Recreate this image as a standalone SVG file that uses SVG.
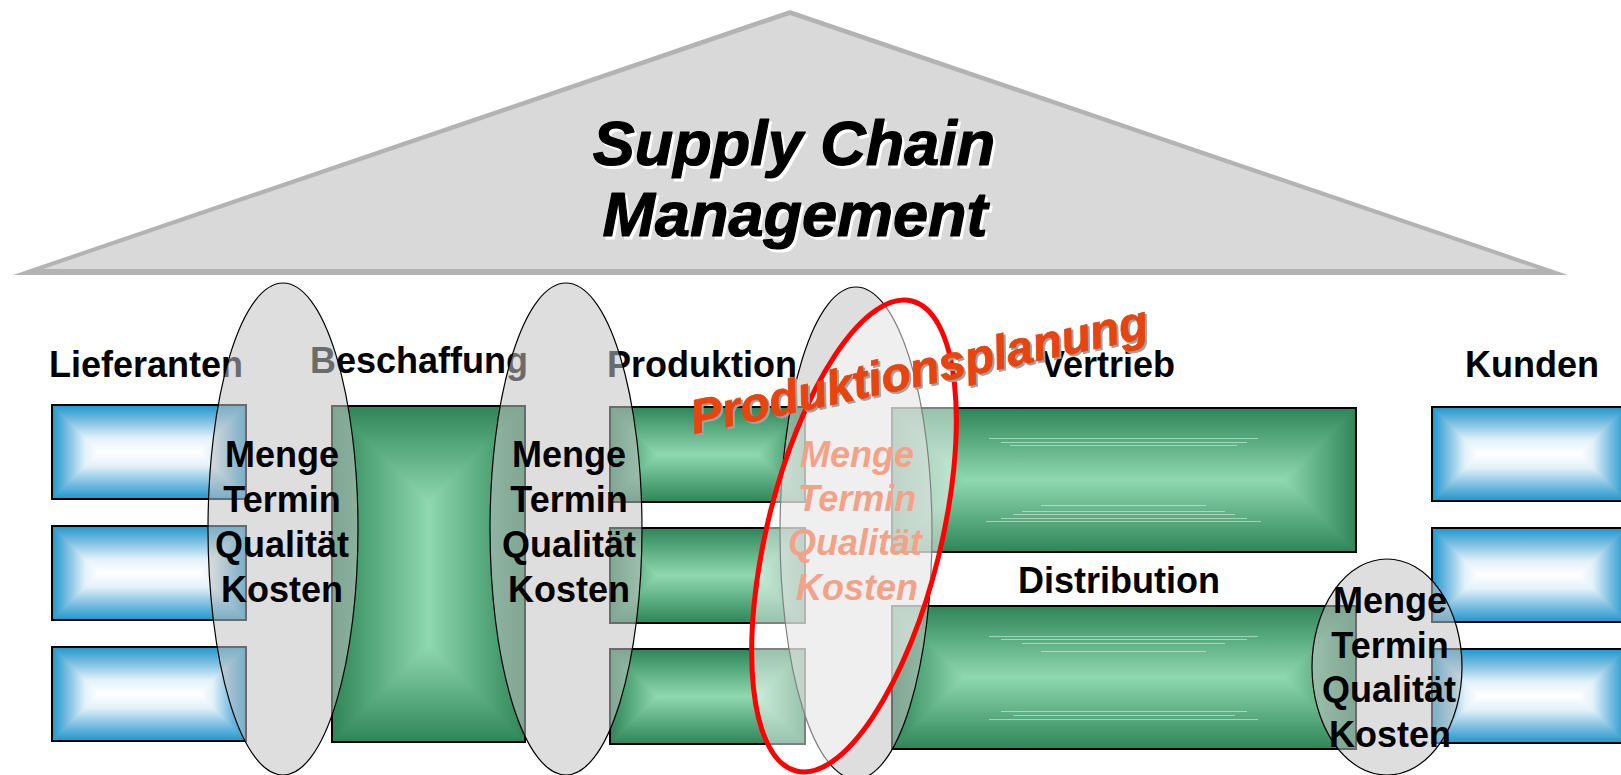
<svg xmlns="http://www.w3.org/2000/svg" xmlns:xlink="http://www.w3.org/1999/xlink" width="1621" height="775" viewBox="0 0 1621 775">
<style>
.lbl{font-family:"Liberation Sans",Arial,sans-serif;font-weight:bold;font-size:36px;fill:#000}
.et{font-family:"Liberation Sans",Arial,sans-serif;font-weight:bold;font-size:36px;fill:#000;text-anchor:middle}
.eo{font-family:"Liberation Sans",Arial,sans-serif;font-weight:bold;font-style:italic;font-size:36px;fill:#e8440e;text-anchor:middle}
.ttl{font-family:"Liberation Sans",Arial,sans-serif;font-weight:bold;font-style:italic;font-size:63px;text-anchor:middle;stroke-width:1.2;stroke-linejoin:round}
.pp{font-family:"Liberation Sans",Arial,sans-serif;font-weight:bold;font-style:italic;font-size:48px;stroke-width:0.8;stroke-linejoin:round}
.ell{fill:#c3c3c3;fill-opacity:0.55;stroke:#000;stroke-width:1.2}
.box{fill:none;stroke:#000;stroke-width:2}
.streak{stroke:#d6f2e2;stroke-width:1;opacity:0.6}
</style>
<defs>
<linearGradient id="bT" x1="0" y1="0" x2="0" y2="1"><stop offset="0" stop-color="#1f96cc"/><stop offset="0.35" stop-color="#7fc0e2"/><stop offset="0.7" stop-color="#e2f1f9"/><stop offset="1" stop-color="#ffffff"/></linearGradient>
<linearGradient id="bB" x1="0" y1="1" x2="0" y2="0"><stop offset="0" stop-color="#1f96cc"/><stop offset="0.35" stop-color="#7fc0e2"/><stop offset="0.7" stop-color="#e2f1f9"/><stop offset="1" stop-color="#ffffff"/></linearGradient>
<linearGradient id="bL" x1="0" y1="0" x2="1" y2="0"><stop offset="0" stop-color="#1f96cc"/><stop offset="0.35" stop-color="#7fc0e2"/><stop offset="0.7" stop-color="#e2f1f9"/><stop offset="1" stop-color="#ffffff"/></linearGradient>
<linearGradient id="bR" x1="1" y1="0" x2="0" y2="0"><stop offset="0" stop-color="#1f96cc"/><stop offset="0.35" stop-color="#7fc0e2"/><stop offset="0.7" stop-color="#e2f1f9"/><stop offset="1" stop-color="#ffffff"/></linearGradient>
<linearGradient id="gT" x1="0" y1="0" x2="0" y2="1"><stop offset="0" stop-color="#2e8558"/><stop offset="1" stop-color="#8fd8b0"/></linearGradient>
<linearGradient id="gB" x1="0" y1="1" x2="0" y2="0"><stop offset="0" stop-color="#2e8558"/><stop offset="1" stop-color="#8fd8b0"/></linearGradient>
<linearGradient id="gL" x1="0" y1="0" x2="1" y2="0"><stop offset="0" stop-color="#2e8558"/><stop offset="1" stop-color="#8fd8b0"/></linearGradient>
<linearGradient id="gR" x1="1" y1="0" x2="0" y2="0"><stop offset="0" stop-color="#2e8558"/><stop offset="1" stop-color="#8fd8b0"/></linearGradient>
<g id="blueBox">
<polygon points="0,0 194,0 147,47 47,47" fill="url(#bT)" stroke="url(#bT)" stroke-width="1"/>
<polygon points="0,94 194,94 147,47 47,47" fill="url(#bB)" stroke="url(#bB)" stroke-width="1"/>
<polygon points="0,0 47,47 0,94" fill="url(#bL)" stroke="url(#bL)" stroke-width="1"/>
<polygon points="194,0 147,47 194,94" fill="url(#bR)" stroke="url(#bR)" stroke-width="1"/>
<rect x="0" y="0" width="194" height="94" class="box"/>
</g>
<g id="greenBox">
<polygon points="0,0 195,0 147.5,47.5 47.5,47.5" fill="url(#gT)" stroke="url(#gT)" stroke-width="1"/>
<polygon points="0,95 195,95 147.5,47.5 47.5,47.5" fill="url(#gB)" stroke="url(#gB)" stroke-width="1"/>
<polygon points="0,0 47.5,47.5 0,95" fill="url(#gL)" stroke="url(#gL)" stroke-width="1"/>
<polygon points="195,0 147.5,47.5 195,95" fill="url(#gR)" stroke="url(#gR)" stroke-width="1"/>
<rect x="0" y="0" width="195" height="95" class="box"/>
</g>
</defs>
<rect width="1621" height="775" fill="#fff"/>

<g id="roof">
<polygon points="13,275 790,10 1568,275" fill="#b3b3b3"/>
<polygon points="43,269 790,15 1538,269" fill="#d9d9d9"/>
<text class="ttl" x="796.5" y="167.5" fill="#fff" stroke="#fff">Supply Chain</text>
<text class="ttl" x="794" y="165" fill="#000" stroke="#000">Supply Chain</text>
<text class="ttl" x="797.5" y="238.5" fill="#fff" stroke="#fff">Management</text>
<text class="ttl" x="795" y="236" fill="#000" stroke="#000">Management</text>
</g>

<g id="labels">
<text class="lbl" x="49" y="377">Lieferanten</text>
<text class="lbl" x="310" y="373">Beschaffung</text>
<text class="lbl" x="607" y="377">Produktion</text>
<text class="lbl" x="1041" y="377">Vertrieb</text>
<text class="lbl" x="1465" y="377">Kunden</text>
<text class="lbl" x="1018" y="593">Distribution</text>
</g>

<g id="lieferanten">
<use xlink:href="#blueBox" href="#blueBox" x="52" y="405"/>
<use xlink:href="#blueBox" href="#blueBox" x="52" y="526"/>
<use xlink:href="#blueBox" href="#blueBox" x="52" y="647"/>
</g>

<g id="beschaffung">
<polygon points="332,406 428.5,502.5 428.5,645.5 332,742" fill="url(#gL)" stroke="url(#gL)" stroke-width="1"/>
<polygon points="525,406 428.5,502.5 428.5,645.5 525,742" fill="url(#gR)" stroke="url(#gR)" stroke-width="1"/>
<polygon points="332,406 525,406 428.5,502.5" fill="url(#gT)" stroke="url(#gT)" stroke-width="1"/>
<polygon points="332,742 525,742 428.5,645.5" fill="url(#gB)" stroke="url(#gB)" stroke-width="1"/>
<rect x="332" y="406" width="193" height="336" class="box"/>
</g>

<g id="produktion">
<use xlink:href="#greenBox" href="#greenBox" x="610" y="407"/>
<use xlink:href="#greenBox" href="#greenBox" x="610" y="528"/>
<use xlink:href="#greenBox" href="#greenBox" x="610" y="649"/>
</g>

<g id="vertrieb">
<polygon points="892,408 1356,408 1284,480 964,480" fill="url(#gT)" stroke="url(#gT)" stroke-width="1"/>
<polygon points="892,552 1356,552 1284,480 964,480" fill="url(#gB)" stroke="url(#gB)" stroke-width="1"/>
<polygon points="892,408 964,480 892,552" fill="url(#gL)" stroke="url(#gL)" stroke-width="1"/>
<polygon points="1356,408 1284,480 1356,552" fill="url(#gR)" stroke="url(#gR)" stroke-width="1"/>
<g class="streak">
<line x1="989" y1="438.5" x2="1258" y2="438.5"/>
<line x1="1001" y1="442.5" x2="1247" y2="442.5"/>
<line x1="1010" y1="445.5" x2="1237" y2="445.5"/>
<line x1="1041" y1="505.5" x2="1206" y2="505.5"/>
<line x1="1022" y1="511.5" x2="1225" y2="511.5"/>
<line x1="1013" y1="514.5" x2="1235" y2="514.5"/>
<line x1="1001" y1="518.5" x2="1247" y2="518.5"/>
<line x1="986" y1="521.5" x2="1261" y2="521.5"/>
</g>
<rect x="892" y="408" width="464" height="144" class="box"/>
</g>

<g id="distribution">
<polygon points="892,606 1356,606 1284.5,677.5 963.5,677.5" fill="url(#gT)" stroke="url(#gT)" stroke-width="1"/>
<polygon points="892,749 1356,749 1284.5,677.5 963.5,677.5" fill="url(#gB)" stroke="url(#gB)" stroke-width="1"/>
<polygon points="892,606 963.5,677.5 892,749" fill="url(#gL)" stroke="url(#gL)" stroke-width="1"/>
<polygon points="1356,606 1284.5,677.5 1356,749" fill="url(#gR)" stroke="url(#gR)" stroke-width="1"/>
<g class="streak">
<line x1="989" y1="636.5" x2="1258" y2="636.5"/>
<line x1="1001" y1="639.5" x2="1247" y2="639.5"/>
<line x1="1022" y1="643.5" x2="1225" y2="643.5"/>
<line x1="1041" y1="651.5" x2="1206" y2="651.5"/>
<line x1="1001" y1="711.5" x2="1247" y2="711.5"/>
<line x1="1013" y1="715.5" x2="1235" y2="715.5"/>
<line x1="989" y1="719.5" x2="1258" y2="719.5"/>
</g>
<rect x="892" y="606" width="464" height="143" class="box"/>
</g>

<g id="kunden">
<use xlink:href="#blueBox" href="#blueBox" x="1432" y="407"/>
<use xlink:href="#blueBox" href="#blueBox" x="1432" y="528"/>
<use xlink:href="#blueBox" href="#blueBox" x="1432" y="649"/>
</g>

<g id="connectors"></g>

<g id="schnittstelle1">
<ellipse class="ell" cx="283" cy="529" rx="75" ry="246"/>
<text class="et" x="282" y="467">Menge</text>
<text class="et" x="282" y="512">Termin</text>
<text class="et" x="282" y="557">Qualität</text>
<text class="et" x="282" y="602">Kosten</text>
</g>

<g id="schnittstelle2">
<ellipse class="ell" cx="566" cy="529" rx="76" ry="246"/>
<text class="et" x="569" y="467">Menge</text>
<text class="et" x="569" y="512">Termin</text>
<text class="et" x="569" y="557">Qualität</text>
<text class="et" x="569" y="602">Kosten</text>
</g>

<g id="schnittstelle3">
<ellipse class="ell" cx="856" cy="533" rx="76" ry="246"/>
<text class="eo" x="857" y="467">Menge</text>
<text class="eo" x="857" y="511">Termin</text>
<text class="eo" x="855" y="555">Qualität</text>
<text class="eo" x="857" y="600">Kosten</text>
</g>

<g id="schnittstelle4">
<ellipse class="ell" cx="1387" cy="667" rx="75" ry="108"/>
<text class="et" x="1390" y="613">Menge</text>
<text class="et" x="1390" y="658">Termin</text>
<text class="et" x="1389" y="702">Qualität</text>
<text class="et" x="1390" y="747">Kosten</text>
</g>

<g id="produktionsplanung">
<ellipse cx="854" cy="536" rx="87" ry="242" transform="rotate(13.8 854 536)" fill="#fff" fill-opacity="0.5" stroke="#ff0000" stroke-width="5"/>
<text class="pp" x="696" y="436" transform="rotate(-12 696 436)" fill="#a0a0a0" stroke="#a0a0a0">Produktionsplanung</text>
<text class="pp" x="694" y="434" transform="rotate(-12 694 434)" fill="#e8440e" stroke="#e8440e">Produktionsplanung</text>
</g>
</svg>
